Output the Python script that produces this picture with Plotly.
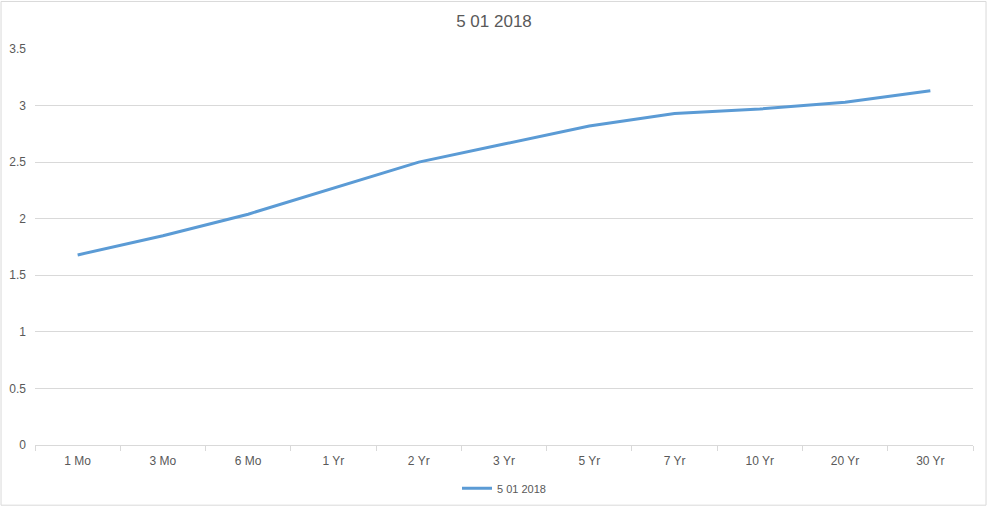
import plotly.graph_objects as go

# datos de la curva
plazos = ["1 Mo", "3 Mo", "6 Mo", "1 Yr", "2 Yr", "3 Yr", "5 Yr", "7 Yr", "10 Yr", "20 Yr", "30 Yr"]
tasas = [1.68, 1.85, 2.04, 2.27, 2.50, 2.66, 2.82, 2.93, 2.97, 3.03, 3.13]
serie = "5 01 2018"

fuente = "Liberation Sans"
gris = "#595959"

fig = go.Figure()

fig.add_trace(go.Scatter(
    x=plazos,
    y=tasas,
    mode="lines",
    line=dict(color="#5b9bd5", width=3),
    name=serie,
))

fig.update_layout(
    width=988,
    height=507,
    margin=dict(l=35, r=15, t=49, b=62),
    paper_bgcolor="white",
    plot_bgcolor="white",
    font=dict(family=fuente, size=11, color=gris),
    title=dict(text=serie, x=0.5, xref="container", y=0.958, yanchor="middle",
               font=dict(size=17, color=gris), automargin=False),
    showlegend=True,
    legend=dict(orientation="h", x=0.5, xanchor="center",
                yref="container", y=0.037, yanchor="middle",
                font=dict(size=11, color=gris)),
    xaxis=dict(
        type="category",
        automargin=False,
        showgrid=False,
        showline=True,
        linecolor="#d9d9d9",
        ticks="outside",
        tickson="boundaries",
        ticklen=5,
        tickcolor="#d9d9d9",
        ticklabelstandoff=5,
        tickfont=dict(size=12),
        range=[-0.5, len(plazos) - 0.5],
    ),
    yaxis=dict(
        range=[0, 3.5],
        dtick=0.5,
        automargin=False,
        showgrid=True,
        gridcolor="#d9d9d9",
        zeroline=False,
        showline=False,
        ticks="",
        ticklabelstandoff=8,
        tickfont=dict(size=12),
    ),
    shapes=[dict(
        type="rect", xref="paper", yref="paper",
        x0=-0.0362, x1=1.0139, y0=-0.152, y1=1.12,
        line=dict(color="#d9d9d9", width=1),
    )],
)

# quitar el margen por defecto del body
fig.write_html("out.html", config={"displayModeBar": False},
               post_script="document.body.style.margin='0';")
